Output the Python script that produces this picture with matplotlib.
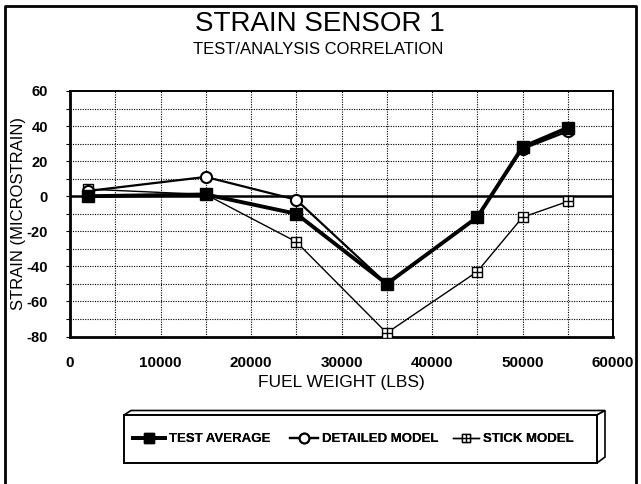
import matplotlib
matplotlib.use("Agg")
import matplotlib.pyplot as plt
from matplotlib.lines import Line2D
from matplotlib.path import Path
from matplotlib.patches import Polygon, Rectangle

plt.rcParams['font.family'] = ['Liberation Sans', 'DejaVu Sans']
plt.rcParams['axes.unicode_minus'] = False

# ---- data ----
fuel_weight = [2000, 15000, 25000, 35000, 45000, 50000, 55000]
test_average = [0, 1, -10, -50, -12, 28, 39]
detailed_model = [3, 11, -2, -50, -12, 27, 37]
stick_model = [4, 1, -26, -78, -43, -12, -3]

series_names = ["TEST AVERAGE", "DETAILED MODEL", "STICK MODEL"]
title = "STRAIN SENSOR 1"
subtitle = "TEST/ANALYSIS CORRELATION"
xlabel = "FUEL WEIGHT (LBS)"
ylabel = "STRAIN (MICROSTRAIN)"
xticks = [0, 10000, 20000, 30000, 40000, 50000, 60000]
yticks = [-80, -60, -40, -20, 0, 20, 40, 60]

W, H = 641, 484
fig = plt.figure(figsize=(W / 100, H / 100), dpi=100)

def fx(x):
    return x / W

def fy(y):
    return 1 - y / H

ax = fig.add_axes([fx(70), fy(336.5), (613 - 70) / W, (336.5 - 91) / H])

# box-with-plus marker
box_plus = Path(
    [(-1, -1), (1, -1), (1, 1), (-1, 1), (-1, -1), (-1, 0), (1, 0), (0, -1), (0, 1)],
    [Path.MOVETO, Path.LINETO, Path.LINETO, Path.LINETO, Path.CLOSEPOLY,
     Path.MOVETO, Path.LINETO, Path.MOVETO, Path.LINETO])

ax.set_xlim(0, 60000)
ax.set_ylim(-80, 60)

# grid
for gx in range(5000, 60000, 5000):
    ax.axvline(gx, color='black', lw=0.8, ls=(0, (1, 1.2)), zorder=1)
for gy in range(-70, 60, 10):
    if gy != 0:
        ax.axhline(gy, color='black', lw=0.8, ls=(0, (1, 1.2)), zorder=1)
ax.axhline(0, color='black', lw=1.8, zorder=2)

ax.plot(fuel_weight, stick_model, color='black', lw=1.0, marker=box_plus,
        ms=7, mfc='white', mec='black', mew=1.0, zorder=3)
ax.plot(fuel_weight, detailed_model, color='black', lw=1.6, marker='o',
        ms=8, mfc='white', mec='black', mew=1.5, zorder=4)
ax.plot(fuel_weight, test_average, color='black', lw=2.8, marker='s',
        ms=8, mfc='black', mec='black', zorder=5)

ax.set_xticks(xticks)
ax.set_yticks(yticks)
ax.set_yticks(range(-80, 61, 10), minor=True)
ax.tick_params(axis='both', which='both', direction='out', length=3, width=0.8)
ax.tick_params(axis='x', which='major', length=0, pad=14, labelsize=11)
ax.tick_params(axis='y', which='major', pad=13, labelsize=10.5)
for lab in ax.get_xticklabels() + ax.get_yticklabels():
    lab.set_fontweight('bold')
for s in ['left', 'bottom']:
    ax.spines[s].set_linewidth(2.0)
for s in ['top', 'right']:
    ax.spines[s].set_linewidth(1.4)

# titles and labels
fig.text(fx(320), fy(24), title, ha='center', va='center', fontsize=20)
fig.text(fx(318), fy(50), subtitle, ha='center', va='center', fontsize=12)
fig.text(fx(341), fy(383), xlabel, ha='center', va='center', fontsize=12.5)
fig.text(fx(19), fy(213), ylabel, ha='center', va='center', fontsize=12,
         rotation=90)

# figure frame (left, top, right)
fig.add_artist(Line2D([fx(5), fx(5), fx(636), fx(636)],
                      [fy(484), fy(6), fy(6), fy(484)], color='black', lw=2.0,
                      transform=fig.transFigure))

# legend 3D box
fc = 'white'
top_face = Polygon([(fx(124), fy(415)), (fx(131), fy(410.5)), (fx(605), fy(410.5)),
                    (fx(597), fy(415))], closed=True, fc=fc, ec='black', lw=1.2,
                   transform=fig.transFigure)
right_face = Polygon([(fx(597), fy(415)), (fx(605), fy(410.5)), (fx(605), fy(457)),
                      (fx(597), fy(463))], closed=True, fc=fc, ec='black', lw=1.2,
                     transform=fig.transFigure)
front = Rectangle((fx(124), fy(463)), fx(597) - fx(124), fy(415) - fy(463),
                  fc=fc, ec='black', lw=1.4, transform=fig.transFigure)
for p in (top_face, right_face, front):
    fig.add_artist(p)

h_test = Line2D([], [], color='black', lw=2.8, marker='s', ms=7, mfc='black')
h_det = Line2D([], [], color='black', lw=1.6, marker='o', ms=7, mfc='white', mew=1.5)
h_stick = Line2D([], [], color='black', lw=1.0, marker=box_plus, ms=6,
                 mfc='white', mew=1.0)

leg_fs = 9.5
entries = [(h_test, series_names[0], 133, 2.4),
           (h_det, series_names[1], 290, 2.1),
           (h_stick, series_names[2], 453, 2.0)]
for h, name, xl, hl in entries:
    lg = fig.legend([h], [name], loc='center left', bbox_to_anchor=(fx(xl), fy(439)),
                    frameon=False, borderpad=0, borderaxespad=0, handlelength=hl,
                    handletextpad=0.3, prop={'size': leg_fs, 'weight': 'bold'})
    fig.add_artist(lg)

fig.savefig("out.png", dpi=100)
